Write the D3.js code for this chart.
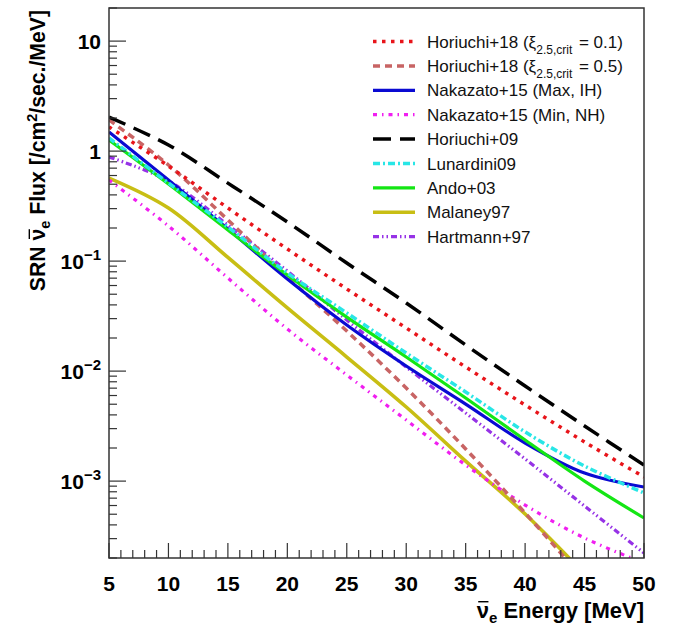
<!DOCTYPE html>
<html>
<head>
<meta charset="utf-8">
<script src="https://cdn.jsdelivr.net/npm/d3@7"></script>
<style>
  body { margin: 0; background: #fff; }
  svg { display: block; font-family: "Liberation Sans", Arial, Helvetica, sans-serif; }
</style>
</head>
<body>
<svg id="chart"></svg>
<script>
var width = 674;
var height = 631;

// energies [MeV]
var energy = [5, 10, 15, 20, 25, 30, 35, 40, 45, 50];

// SRN flux [/cm2/sec./MeV]
var horiuchi18a = [1.66, 0.732, 0.304, 0.1288, 0.0558, 0.02465, 0.0109, 0.00492, 0.00227, 0.00109];
var horiuchi18b = [1.92, 0.748, 0.2364, 0.0717, 0.02315, 0.00702, 0.00196, 0.000513, 0.000126, null];
var nakazatoMax = [1.49, 0.546, 0.196, 0.0688, 0.02625, 0.01113, 0.00502, 0.00222, 0.001185, 0.000884];
var nakazatoMin = [0.546, 0.2085, 0.0702, 0.02414, 0.00922, 0.00359, 0.0014, 0.000606, 0.000304, 0.00018];
var horiuchi09 = [2.04, 1.136, 0.512, 0.2267, 0.0961, 0.0416, 0.01727, 0.00732, 0.00317, 0.0014];
var lunardini09 = [1.316, 0.513, 0.204, 0.078, 0.0338, 0.0146, 0.00646, 0.0028, 0.00137, 0.00078];
var ando03 = [1.26, 0.502, 0.1918, 0.0747, 0.031, 0.01343, 0.0057, 0.002364, 0.001, 0.000462];
var malaney97 = [0.569, 0.304, 0.108, 0.0375, 0.01343, 0.00472, 0.00152, 0.000502, 0.000143, null];
var hartmann97 = [0.884, 0.535, 0.213, 0.0813, 0.02915, 0.0109, 0.00416, 0.00159, 0.000594, 0.000222];

var xTicks = [5, 10, 15, 20, 25, 30, 35, 40, 45, 50];
var yTicks = [10, 1, 0.1, 0.01, 0.001];
var yTickBase = ["10", "1", "10", "10", "10"];
var yTickExp = ["", "", "\u22121", "\u22122", "\u22123"];

var series = [
    {name: "Horiuchi+18 (\u03be", sub: "2.5,crit", tail: " = 0.1)", values: horiuchi18a, color: "#e8141a", width: 3.5, dash: "3.5,5.5"},
    {name: "Horiuchi+18 (\u03be", sub: "2.5,crit", tail: " = 0.5)", values: horiuchi18b, color: "#c86464", width: 3.5, dash: "7,5"},
    {name: "Nakazato+15 (Max, IH)", values: nakazatoMax, color: "#0a0ad2", width: 3.2, dash: null},
    {name: "Nakazato+15 (Min, NH)", values: nakazatoMin, color: "#f01ef0", width: 3.2, dash: "4,5,1.5,5"},
    {name: "Horiuchi+09", values: horiuchi09, color: "#000000", width: 3.5, dash: "18,9"},
    {name: "Lunardini09", values: lunardini09, color: "#28e6e6", width: 3.5, dash: "7,3,2,3"},
    {name: "Ando+03", values: ando03, color: "#14e614", width: 3.2, dash: null},
    {name: "Malaney97", values: malaney97, color: "#c8be14", width: 3.6, dash: null},
    {name: "Hartmann+97", values: hartmann97, color: "#9632e6", width: 3.2, dash: "6,3,1.5,3,1.5,3"}
];

var margin = {left: 109, right: 30, top: 8, bottom: 73};
var plotW = width - margin.left - margin.right;
var plotH = height - margin.top - margin.bottom;

var svg = d3.select('#chart')
    .attr('width', width)
    .attr('height', height);

var x = d3.scaleLinear().domain([5, 50]).range([margin.left, margin.left + plotW]);
var y = d3.scaleLog().domain([2e-4, 20]).range([margin.top + plotH, margin.top]);

svg.append('defs').append('clipPath').attr('id', 'plotclip')
    .append('rect')
    .attr('x', margin.left).attr('y', margin.top)
    .attr('width', plotW).attr('height', plotH);

// curves
var line = d3.line()
    .defined(function(d){ return d[1] != null; })
    .x(function(d){ return x(d[0]); })
    .y(function(d){ return y(d[1]); })
    .curve(d3.curveCatmullRom.alpha(0.5));

var curves = svg.append('g').attr('clip-path', 'url(#plotclip)');
// draw back to front
[7, 3, 8, 1, 2, 6, 5, 0, 4].forEach(function(i){
    var s = series[i];
    curves.append('path')
        .datum(energy.map(function(e, j){ return [e, s.values[j]]; }))
        .attr('d', line)
        .attr('fill', 'none')
        .attr('stroke', s.color)
        .attr('stroke-width', s.width)
        .attr('stroke-dasharray', s.dash);
});

// frame
svg.append('rect')
    .attr('x', margin.left).attr('y', margin.top)
    .attr('width', plotW).attr('height', plotH)
    .attr('fill', 'none')
    .attr('stroke', '#333')
    .attr('stroke-width', 1.5);

// x ticks
var xb = margin.top + plotH;
for (var e = 5; e <= 50; e++) {
    var len = (e % 5 === 0) ? 15 : 8;
    svg.append('line')
        .attr('x1', x(e)).attr('x2', x(e))
        .attr('y1', xb).attr('y2', xb - len)
        .attr('stroke', '#333').attr('stroke-width', 1.2);
}
svg.append('g').selectAll('text')
    .data(xTicks)
    .enter().append('text')
    .attr('x', function(d){ return x(d); })
    .attr('y', 591)
    .attr('text-anchor', 'middle')
    .attr('font-weight', 'bold')
    .attr('font-size', 21)
    .text(function(d){ return d; });

// y ticks
for (var p = -4; p <= 1; p++) {
    for (var m = 1; m <= 9; m++) {
        var v = m * Math.pow(10, p);
        if (v < 2e-4 || v > 20) continue;
        var ln = (m === 1) ? 17 : 8;
        svg.append('line')
            .attr('x1', margin.left).attr('x2', margin.left + ln)
            .attr('y1', y(v)).attr('y2', y(v))
            .attr('stroke', '#333').attr('stroke-width', 1.2);
    }
}
var yl = svg.append('g').selectAll('text')
    .data(yTicks)
    .enter().append('text')
    .attr('x', 101)
    .attr('y', function(d){ return y(d) + 8; })
    .attr('text-anchor', 'end')
    .attr('font-weight', 'bold')
    .attr('font-size', 21);
yl.append('tspan').text(function(d, i){ return yTickBase[i]; });
yl.append('tspan')
    .attr('dy', -9)
    .attr('font-size', 15)
    .text(function(d, i){ return yTickExp[i]; });

// bar over a nu glyph
function nuBar(g, t, idx, size) {
    var b = t.node().getExtentOfChar(idx);
    var base = +t.attr('y') || 0;
    g.append('line')
        .attr('x1', b.x + 1.5).attr('x2', b.x + b.width - 0.5)
        .attr('y1', base - size * 0.74).attr('y2', base - size * 0.74)
        .attr('stroke', '#000').attr('stroke-width', 1.4);
}

// axis titles
var xg = svg.append('g');
var xt = xg.append('text')
    .attr('x', margin.left + plotW)
    .attr('y', 618)
    .attr('text-anchor', 'end')
    .attr('font-weight', 'bold')
    .attr('font-size', 22);
xt.append('tspan').text('\u03bd');
xt.append('tspan').attr('dy', 5).attr('font-size', 15).text('e');
xt.append('tspan').attr('dy', -5).text(' Energy [MeV]');
nuBar(xg, xt, 0, 22);

var yg = svg.append('g')
    .attr('transform', 'translate(45,' + (margin.top + 2) + ') rotate(-90)');
var yt = yg.append('text')
    .attr('x', 0).attr('y', 0)
    .attr('text-anchor', 'end')
    .attr('font-weight', 'bold')
    .attr('font-size', 21.2);
yt.append('tspan').text('SRN ');
yt.append('tspan').text('\u03bd');
yt.append('tspan').attr('dy', 5).attr('font-size', 14.5).text('e');
yt.append('tspan').attr('dy', -5).text(' Flux [/cm');
yt.append('tspan').attr('dy', -8).attr('font-size', 14.5).text('2');
yt.append('tspan').attr('dy', 8).text('/sec./MeV]');
nuBar(yg, yt, 4, 21.2);

// legend
var leg = svg.append('g');
series.forEach(function(s, i){
    var ly = 41.5 + i * 24.4;
    leg.append('line')
        .attr('x1', 373).attr('x2', 415)
        .attr('y1', ly).attr('y2', ly)
        .attr('stroke', s.color)
        .attr('stroke-width', s.width)
        .attr('stroke-dasharray', s.dash);
    var t = leg.append('text')
        .attr('x', 427)
        .attr('y', ly + 6)
        .attr('font-size', 17)
        .attr('fill', '#111');
    t.append('tspan').text(s.name);
    if (s.sub) {
        t.append('tspan').attr('dy', 6.5).attr('font-size', 12).text(s.sub);
        t.append('tspan').attr('dy', -6.5).attr('dx', 2).text(s.tail);
    }
});
</script>
</body>
</html>
